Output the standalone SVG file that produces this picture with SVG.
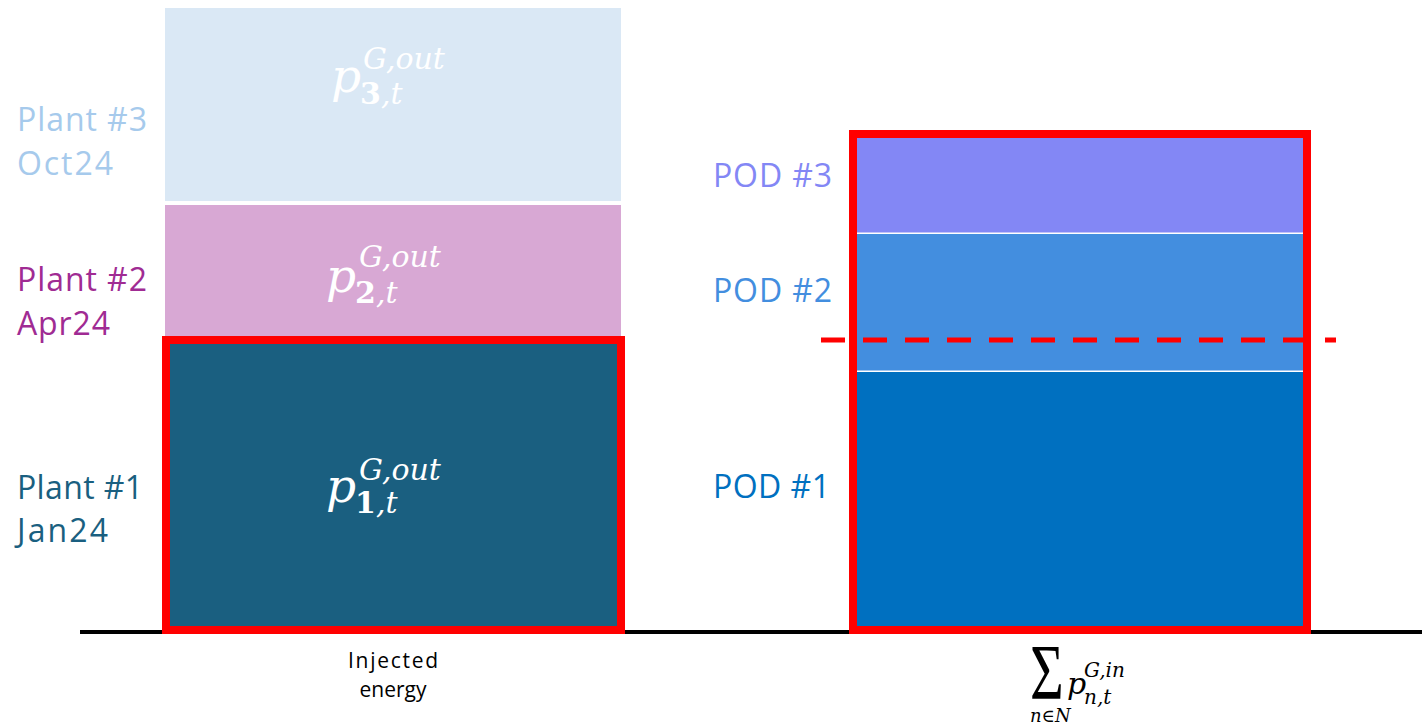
<svg xmlns="http://www.w3.org/2000/svg" width="1422" height="727" viewBox="0 0 1422 727">
  <style>
    .lbl { font-family: "Open Sans", "Noto Sans", sans-serif; font-size: 32px; }
    .cap { font-family: "Open Sans", "Noto Sans", sans-serif; font-size: 21px; fill: #000; }
    .math { font-family: "DejaVu Serif", "Liberation Serif", serif; font-style: italic; fill: #fff; }
    .mathk { font-family: "DejaVu Serif", "Liberation Serif", serif; font-style: italic; fill: #000; }
    .bold { font-style: normal; font-weight: bold; }
    .frame { fill: none; stroke: #ff0000; stroke-width: 8; }
  </style>
  <rect width="1422" height="727" fill="#ffffff"/>

  <!-- Injected energy stack -->
  <g id="plant3">
    <rect x="165" y="8" width="456" height="193" fill="#dae8f5"/>
    <text class="math" font-size="47" x="331" y="92">p</text>
    <text class="math" font-size="30" x="363" y="69">G,out</text>
    <text class="math" font-size="30" x="360" y="104"><tspan class="bold">3</tspan>,t</text>
    <text class="lbl" x="17" y="131" fill="#a6caec" textLength="130">Plant #3</text>
    <text class="lbl" x="17" y="175" fill="#a6caec" textLength="96">Oct24</text>
  </g>
  <g id="plant2">
    <rect x="165" y="205" width="456" height="131" fill="#d8a8d4"/>
    <text class="math" font-size="47" x="326" y="292">p</text>
    <text class="math" font-size="30" x="359" y="267">G,out</text>
    <text class="math" font-size="30" x="355" y="303"><tspan class="bold">2</tspan>,t</text>
    <text class="lbl" x="17" y="291" fill="#a02b93" textLength="130">Plant #2</text>
    <text class="lbl" x="17" y="335" fill="#a02b93" textLength="93">Apr24</text>
  </g>
  <g id="plant1">
    <rect x="166" y="340" width="455" height="290" fill="#1a5f80"/>
    <text class="math" font-size="47" x="326" y="502">p</text>
    <text class="math" font-size="30" x="359" y="480">G,out</text>
    <text class="math" font-size="30" x="355" y="513"><tspan class="bold">1</tspan>,t</text>
    <text class="lbl" x="17" y="499" fill="#1a5f80" textLength="126">Plant #1</text>
    <text class="lbl" x="17" y="542" fill="#1a5f80" textLength="91">Jan24</text>
  </g>

  <!-- Withdrawn energy stack -->
  <g id="pod3">
    <rect x="857" y="138" width="446" height="94.5" fill="#8387f5"/>
    <text class="lbl" x="713" y="187" fill="#8387f5" textLength="119">POD #3</text>
  </g>
  <g id="pod2">
    <rect x="857" y="234" width="446" height="136.5" fill="#438edf"/>
    <text class="lbl" x="713" y="302" fill="#438edf" textLength="119">POD #2</text>
  </g>
  <g id="pod1">
    <rect x="857" y="372" width="446" height="258" fill="#0070c0"/>
    <text class="lbl" x="713" y="498" fill="#0070c0" textLength="117">POD #1</text>
  </g>

  <!-- Axis, frames and threshold -->
  <g id="connectors">
    <line x1="80" y1="632" x2="1422" y2="632" stroke="#000" stroke-width="4"/>
    <rect class="frame" x="166" y="340" width="455" height="290"/>
    <rect class="frame" x="853" y="134" width="454" height="496"/>
    <line x1="821" y1="340" x2="1336" y2="340" stroke="#ff0000" stroke-width="5" stroke-dasharray="24 18"/>
  </g>

  <!-- Axis captions -->
  <g id="caption-injected">
    <text class="cap" x="393" y="668" text-anchor="middle" textLength="90">Injected</text>
    <text class="cap" x="393" y="697" text-anchor="middle" textLength="67">energy</text>
  </g>
  <g id="caption-sum">
    <text font-family="Liberation Serif, serif" font-size="58" transform="translate(1030,698) scale(1,1.35)" fill="#000">Σ</text>
    <text class="mathk" font-size="30" x="1067" y="694">p</text>
    <text class="mathk" font-size="20" x="1084" y="677">G,in</text>
    <text class="mathk" font-size="20" x="1084" y="704">n,t</text>
    <text class="mathk" font-size="18" x="1030" y="722">n∈N</text>
  </g>
</svg>
